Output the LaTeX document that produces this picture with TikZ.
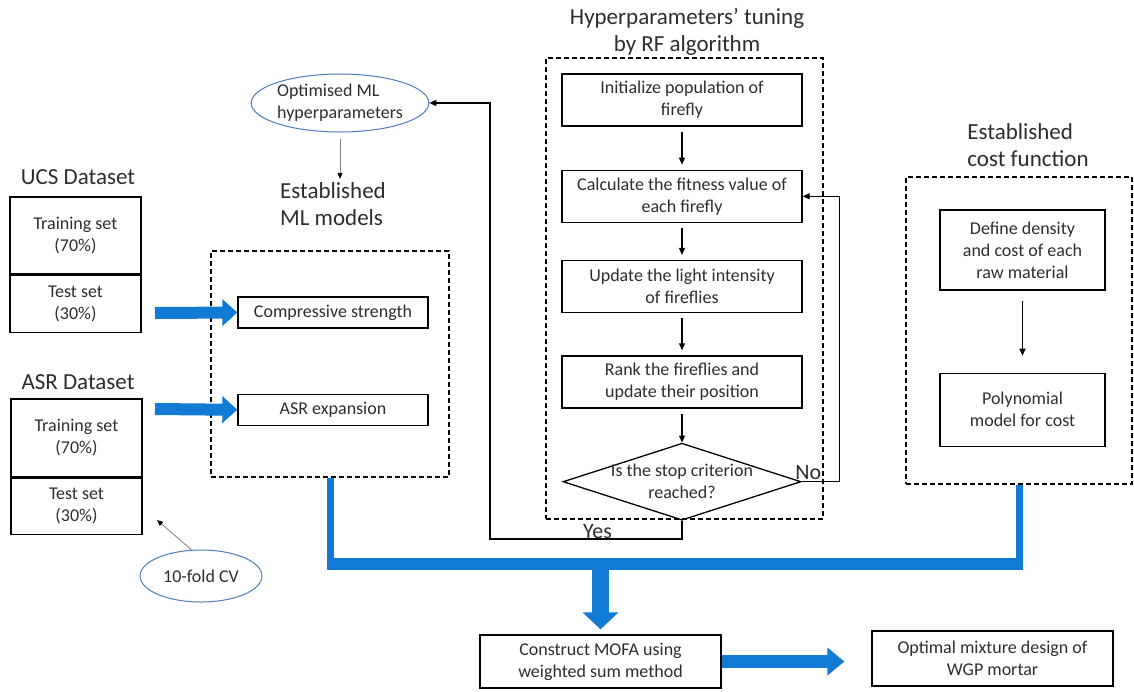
\documentclass[tikz,border=0pt]{standalone}
\usepackage{fontspec}
\setmainfont{Carlito}
\usetikzlibrary{shapes.geometric,arrows.meta,positioning,calc}
\definecolor{busblue}{RGB}{16,122,212}
\definecolor{ovalblue}{RGB}{78,122,184}
\definecolor{txtgray}{RGB}{45,45,45}
\newcommand{\boxfont}{\fontsize{18}{22}\selectfont}
\newcommand{\headfont}{\fontsize{23}{27}\selectfont}
\tikzstyle{block} = [rectangle, draw, line width=1.3pt, text=txtgray, align=center, inner sep=2pt, font=\boxfont]
\tikzstyle{fastep} = [minimum width=240pt, minimum height=52pt]
\tikzstyle{dashframe} = [rectangle, draw, line width=1.2pt, dash pattern=on 5pt off 3pt]
\tikzstyle{oval} = [ellipse, draw=ovalblue, line width=1pt, text=txtgray, font=\boxfont, inner sep=0pt]
\tikzstyle{heading} = [font=\headfont, text=txtgray]
\tikzstyle{yesno} = [font=\fontsize{22}{26}\selectfont, text=txtgray, inner sep=0pt]
\tikzstyle{flow} = [-{Triangle[length=7pt,width=6pt]}, line width=1.3pt, shorten <=5pt, shorten >=5pt]
\tikzstyle{loopline} = [-{Triangle[length=7pt,width=6pt]}, line width=1.3pt]
\tikzstyle{hint} = [-{Triangle[length=6pt,width=5pt,color=black]}, draw=gray, line width=0.8pt]
\tikzstyle{bus} = [draw=busblue]

\begin{document}
\begin{tikzpicture}[x=1pt, y=-1pt]
    \useasboundingbox (0,0) rectangle (1134,691);

    % data sets
    \node[heading] (ucsT) at (78,177) {UCS Dataset};
    \node[block, minimum width=131pt, minimum height=77pt] (ucsTrain) at (75.5,235.5) {Training set\\(70\%)};
    \node[block, minimum width=131pt, minimum height=57pt, below=0pt of ucsTrain] (ucsTest) {Test set\\(30\%)};
    \node[heading] (asrT) at (78,382) {ASR Dataset};
    \node[block, minimum width=131pt, minimum height=78pt] (asrTrain) at (76.5,438) {Training set\\(70\%)};
    \node[block, minimum width=131pt, minimum height=56pt, below=0pt of asrTrain] (asrTest) {Test set\\(30\%)};
    \node[oval, minimum width=122pt, minimum height=52pt] (cv) at (201,576) {10-fold CV};
    \coordinate (cvtip) at (157,520);
    \draw[hint] (cv.110) -- (cvtip);

    % ML models
    \node[oval, minimum width=160pt, minimum height=58pt, align=left] (opt) at (340,103) {Optimised ML\\hyperparameters};
    \node[heading, align=left] (mlT) at (333,204) {Established\\ML models};
    \draw[hint] ([yshift=-6pt]opt.south) -- (opt.south |- mlT.north);
    \node[dashframe, minimum width=238pt, minimum height=226pt] (mlbox) at (330,364) {};
    \node[block, minimum width=190pt, minimum height=31pt] (cs) at (333,312.5) {Compressive strength};
    \node[block, minimum width=190pt, minimum height=31pt, below=65pt of cs] (asr) {ASR expansion};
    \coordinate (ucsOut) at (155,313);
    \coordinate (asrOut) at (155,409);
    \draw[busblue, line width=12pt, -{Triangle[length=15pt,width=26pt]}] (ucsOut) -- (cs.west);
    \draw[busblue, line width=12pt, -{Triangle[length=15pt,width=26pt]}] (asrOut) -- (asr.west);

    % firefly tuning
    \node[heading, align=center] (faT) at (687,31.5) {Hyperparameters’ tuning\\by RF algorithm};
    \node[dashframe, minimum width=277pt, minimum height=461pt] (fabox) at (684.5,288.5) {};
    \node[block, fastep] (init) at (682,100) {Initialize population of\\firefly};
    \node[block, fastep, below=43pt of init] (fit) {Calculate the fitness value of\\each firefly};
    \node[block, fastep, below=37pt of fit] (light) {Update the light intensity\\of fireflies};
    \node[block, fastep, below=42pt of light] (rank) {Rank the fireflies and\\update their position};
    \node[diamond, draw, line width=1.3pt, minimum width=238pt, minimum height=77pt, shape aspect=3.1, inner sep=0pt, below=34pt of rank] (stop) {};
    \node[font=\boxfont, text=txtgray, align=center] (stopTxt) at (stop.center) {Is the stop criterion\\reached?};
    \draw[flow] (init) -- (fit);
    \draw[flow] (fit) -- (light);
    \draw[flow] (light) -- (rank);
    \draw[flow, shorten >=0pt] (rank) -- (stop);
    \draw[loopline] (stop.east) node[yesno, anchor=south west, xshift=-7pt, yshift=1pt] {No} -- ++(38,0) |- (fit.east);
    \coordinate (yesturn) at (490,539);
    \draw[loopline] (stop.south) |- node[yesno, pos=0.72, above] {Yes} (yesturn) |- (opt.east);

    % cost function
    \node[heading, align=left] (costT) at (1028,145) {Established\\cost function};
    \node[dashframe, minimum width=226pt, minimum height=307pt] (costbox) at (1019,330.5) {};
    \node[block, minimum width=165pt, minimum height=80pt] (dens) at (1022.5,250) {Define density\\and cost of each\\raw material};
    \node[block, minimum width=165pt, minimum height=73pt, below=82pt of dens] (poly) {Polynomial\\model for cost};
    \draw[flow, shorten <=10pt, shorten >=17pt] (dens) -- (poly);

    % optimisation
    \node[block, minimum width=241pt, minimum height=53pt] (mofa) at (600.5,661.5) {Construct MOFA using\\weighted sum method};
    \node[block, minimum width=241pt, minimum height=55pt] (mix) at (992.5,658.5) {Optimal mixture design of\\WGP mortar};
    \coordinate (busY) at (0,564);
    \draw[bus, line width=7pt] (mlbox.south) -- (mlbox.south |- busY);
    \draw[bus, line width=7pt] (costbox.south) -- (costbox.south |- busY);
    \draw[bus, line width=12pt] ($(mlbox.south |- busY)+(-3.5,0)$) -- ($(costbox.south |- busY)+(3.5,0)$);
    \draw[busblue, line width=17pt, -{Triangle[length=17pt,width=35pt]}, shorten >=5pt] (mofa.north |- busY) -- (mofa.north);
    \draw[busblue, line width=13pt, -{Triangle[length=17pt,width=27pt]}, shorten >=27pt] (mofa.east) -- (mofa.east -| mix.west);
\end{tikzpicture}
\end{document}
